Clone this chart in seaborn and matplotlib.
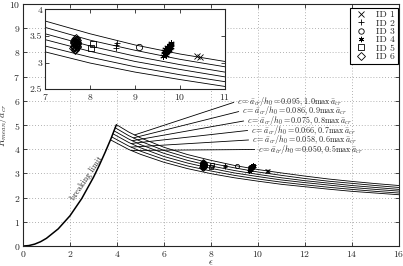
import matplotlib
matplotlib.use("Agg")
import matplotlib.pyplot as plt
import numpy as np
import pandas as pd
import seaborn as sns

# breaking limit curve
break_eps = [0, 0.25, 0.5, 0.75, 1.0, 1.5, 2.0, 2.5, 3.0, 3.25, 3.5, 3.75, 3.97]
break_ratio = [0, 0.02, 0.08, 0.18, 0.32, 0.71, 1.25, 1.96, 2.84, 3.34, 3.88, 4.45, 5.0]

# decay curves for each c, first point sits on the breaking limit
c_values = ["0.095", "0.086", "0.075", "0.066", "0.058", "0.050"]
c_fracs = ["1.0", "0.9", "0.8", "0.7", "0.6", "0.5"]
start_eps = [3.97, 3.92, 3.875, 3.825, 3.774, 3.72]
start_ratio = [5.02, 4.89, 4.76, 4.64, 4.51, 4.39]
eps_grid = [4.5, 5, 6, 7, 8, 9, 10, 11, 12, 13, 14, 15, 16]
ratio_c0095 = [4.71, 4.47, 4.08, 3.78, 3.54, 3.33, 3.16, 3.02, 2.89, 2.77, 2.67, 2.58, 2.50]
ratio_c0086 = [4.56, 4.33, 3.95, 3.66, 3.42, 3.23, 3.06, 2.92, 2.79, 2.68, 2.59, 2.50, 2.42]
ratio_c0075 = [4.42, 4.19, 3.83, 3.54, 3.31, 3.12, 2.96, 2.82, 2.70, 2.60, 2.50, 2.42, 2.34]
ratio_c0066 = [4.28, 4.06, 3.70, 3.43, 3.21, 3.02, 2.87, 2.73, 2.62, 2.52, 2.42, 2.34, 2.27]
ratio_c0058 = [4.13, 3.92, 3.58, 3.31, 3.10, 2.92, 2.77, 2.64, 2.53, 2.43, 2.34, 2.26, 2.19]
ratio_c0050 = [3.99, 3.79, 3.46, 3.20, 2.99, 2.82, 2.68, 2.55, 2.45, 2.35, 2.26, 2.19, 2.12]
curve_ratios = [ratio_c0095, ratio_c0086, ratio_c0075, ratio_c0066, ratio_c0058, ratio_c0050]

# label placement
label_eps = [9.11, 9.32, 9.53, 9.70, 9.74, 10.0]
label_ratio = [5.98, 5.59, 5.19, 4.79, 4.39, 3.99]
target_eps = [4.75, 4.7, 4.65, 4.6, 4.6, 4.6]

# measurements
id1_eps = [10.38, 10.44]
id1_ratio = [3.12, 3.10]
id2_eps = [8.58, 8.58, 8.59]
id2_ratio = [3.28, 3.32, 3.36]
id3_eps = [9.10]
id3_ratio = [3.30]
id4_eps = [9.62, 9.64, 9.66, 9.68, 9.70, 9.72, 9.74, 9.76, 9.78, 9.80,
           9.65, 9.69, 9.73, 9.77, 9.81, 9.67, 9.71, 9.75, 9.79, 9.70]
id4_ratio = [3.12, 3.16, 3.19, 3.22, 3.24, 3.26, 3.28, 3.30, 3.32, 3.34,
             3.21, 3.18, 3.22, 3.27, 3.29, 3.25, 3.30, 3.24, 3.36, 3.15]
id5_eps = [8.06, 8.01]
id5_ratio = [3.34, 3.27]
id6_eps = [7.63, 7.65, 7.66, 7.68, 7.70, 7.71, 7.64, 7.65, 7.67, 7.69, 7.70, 7.71,
           7.64, 7.66, 7.68, 7.69, 7.70, 7.65, 7.67, 7.68, 7.70, 7.66, 7.68, 7.69, 7.67]
id6_ratio = [3.28, 3.30, 3.26, 3.32, 3.29, 3.34, 3.36, 3.38, 3.40, 3.35, 3.42, 3.38,
             3.31, 3.44, 3.33, 3.27, 3.31, 3.41, 3.36, 3.46, 3.37, 3.24, 3.43, 3.39, 3.30]

ids = ["ID 1", "ID 2", "ID 3", "ID 4", "ID 5", "ID 6"]
id_eps = [id1_eps, id2_eps, id3_eps, id4_eps, id5_eps, id6_eps]
id_ratio = [id1_ratio, id2_ratio, id3_ratio, id4_ratio, id5_ratio, id6_ratio]
id_markers = ["x", "+", "o", (6, 2, 0), "s", "D"]

sns.set_style("ticks")
plt.rcParams["font.family"] = ["cmr10"]
plt.rcParams["mathtext.fontset"] = "cm"
plt.rcParams["axes.formatter.use_mathtext"] = True
plt.rcParams["axes.unicode_minus"] = False

rows = []
for i, ratios in enumerate(curve_ratios):
    xs = [start_eps[i]] + eps_grid
    ys = [start_ratio[i]] + ratios
    for order, (x, y) in enumerate(zip(xs, ys)):
        rows.append({"curve": c_values[i], "order": order, "eps": x, "ratio": y})
curves = pd.DataFrame(rows)
breaking = pd.DataFrame({"eps": break_eps, "ratio": break_ratio})


def draw_curves(ax, lw):
    sns.lineplot(data=curves, x="eps", y="ratio", units="curve", estimator=None,
                 sort=False, color="k", lw=lw, legend=False, ax=ax)


def draw_points(ax, ms, with_label):
    for name, xs, ys, m in zip(ids, id_eps, id_ratio, id_markers):
        ax.plot(xs, ys, linestyle="none", marker=m, ms=ms, mfc="none",
                mec="k", mew=0.6, color="k", label=name if with_label else None)


fig = plt.figure(figsize=(4.03, 2.66), dpi=100)
ax = fig.add_axes([0.057, 0.075, 0.933, 0.91])

draw_curves(ax, 0.6)
sns.lineplot(data=breaking, x="eps", y="ratio", sort=False, color="k", lw=1.1, ax=ax)
draw_points(ax, 3.0, True)

for i in range(len(c_values)):
    ty = np.interp(target_eps[i], [start_eps[i]] + eps_grid, [start_ratio[i]] + curve_ratios[i])
    ax.annotate(
        rf"$c=\bar{{a}}_{{cr}}/h_0={c_values[i]},\,{c_fracs[i]}\mathrm{{max}}\,\bar{{a}}_{{cr}}$",
        xy=(target_eps[i], ty), xytext=(label_eps[i], label_ratio[i]),
        ha="left", va="center", fontsize=5.8,
        arrowprops=dict(arrowstyle="-", lw=0.6, color="k", shrinkA=0, shrinkB=0,
                        relpos=(0, 0.5)),
    )

ax.text(2.74, 2.81, "breaking limit", rotation=56, ha="center", va="center", fontsize=6)

ax.set_xlim(0, 16)
ax.set_ylim(0, 10)
ax.set_xticks(range(0, 17, 2))
ax.set_yticks(range(0, 11))
ax.grid(True, linestyle=(0, (1, 2.5)), color="#999999", lw=0.6)
ax.tick_params(direction="in", top=True, right=True, labelsize=7, length=3, width=0.6, pad=2)
ax.set_xlabel(r"$\epsilon$", fontsize=7, labelpad=0)
ax.set_ylabel(r"$R_{mean}/\bar{a}_{cr}$", fontsize=7)
ax.yaxis.set_label_coords(-0.038, 0.5)
for s in ax.spines.values():
    s.set_linewidth(0.8)

leg = ax.legend(loc="upper right", bbox_to_anchor=(0.998, 0.985), borderaxespad=0,
                fontsize=7, frameon=True, fancybox=False, edgecolor="k",
                handlelength=1.6, handletextpad=0.8, labelspacing=-0.05,
                borderpad=0.3, markerscale=1.3)
leg.get_frame().set_linewidth(0.8)
leg.get_frame().set_alpha(1)

# inset zoom
axin = fig.add_axes([0.112, 0.665, 0.446, 0.30])
draw_curves(axin, 0.6)
draw_points(axin, 4.5, False)
axin.set_xlim(7, 11)
axin.set_ylim(2.5, 4)
axin.set_xticks([7, 8, 9, 10, 11])
axin.set_yticks([2.5, 3, 3.5, 4])
axin.set_yticklabels(["2.5", "3", "3.5", "4"])
axin.set_xlabel("")
axin.set_ylabel("")
axin.tick_params(direction="in", top=True, right=True, labelsize=7, length=3, width=0.6, pad=2)
for s in axin.spines.values():
    s.set_linewidth(0.8)

fig.savefig("out.png", dpi=100)
